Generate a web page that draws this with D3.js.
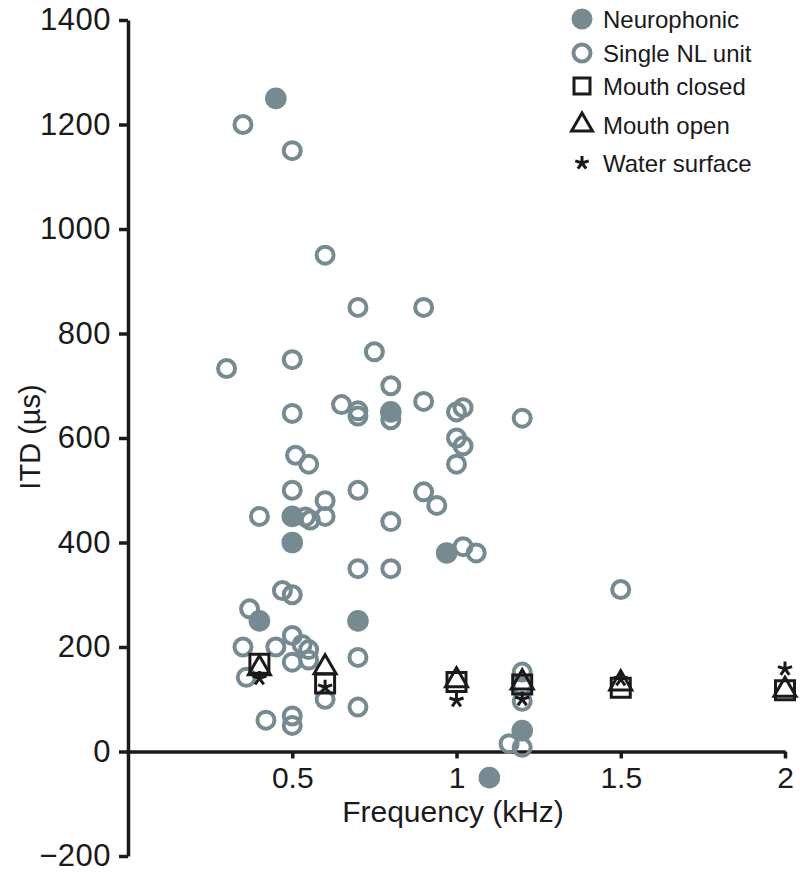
<!DOCTYPE html>
<html>
<head>
<meta charset="utf-8">
<script src="https://cdn.jsdelivr.net/npm/d3@7"></script>
<style>
  html, body { margin: 0; padding: 0; background: #fff; }
  svg { display: block; }
  text { font-family: "Liberation Sans", Arial, Helvetica, sans-serif; fill: #1a1a1a; }
</style>
</head>
<body>
<svg id="chart" width="800" height="876"></svg>
<script>
// ---------- data ----------
const neurophonic = [
  [0.45, 1250], [0.8, 650], [0.5, 450], [0.5, 400], [0.97, 380],
  [0.4, 250], [0.7, 250], [1.2, 40], [1.1, -50]
];
const singleNL = [
  [0.35, 1200], [0.5, 1150], [0.6, 950], [0.7, 850], [0.9, 850],
  [0.75, 765], [0.5, 750], [0.3, 733], [0.8, 700], [0.9, 670],
  [0.65, 664], [0.7, 652], [0.7, 642], [0.5, 647], [0.8, 635],
  [1.0, 650], [1.02, 658], [1.2, 638], [1.0, 600], [1.02, 585],
  [1.0, 550], [0.51, 567], [0.55, 550], [0.5, 500], [0.7, 500],
  [0.9, 497], [0.94, 471], [0.6, 480], [0.4, 450], [0.54, 449],
  [0.555, 443], [0.6, 450], [0.8, 440], [1.02, 392], [1.06, 380],
  [0.7, 350], [0.8, 350], [0.47, 308], [0.5, 300], [0.37, 273],
  [0.35, 200], [0.45, 200], [0.5, 222], [0.53, 205], [0.55, 195],
  [0.5, 171], [0.55, 175], [0.7, 180], [0.36, 142], [0.6, 100],
  [0.7, 85], [0.42, 60], [0.5, 68], [0.5, 50], [1.2, 152],
  [1.2, 125], [1.2, 96], [1.16, 15], [1.2, 8], [1.5, 310]
];
const mouthClosed = [[0.4, 168], [0.6, 130], [1.0, 133], [1.2, 128], [1.5, 122], [2.0, 117]];
const mouthOpen   = [[0.4, 159], [0.6, 161], [1.0, 136], [1.2, 132], [1.5, 130], [2.0, 118]];
const waterSurface = [[0.4, 140], [0.6, 123], [1.0, 98], [1.2, 100], [1.5, 138], [2.0, 158]];

const yTicks = [-200, 0, 200, 400, 600, 800, 1000, 1200, 1400];
const xTicks = [0.5, 1, 1.5, 2];
const legendLabels = ["Neurophonic", "Single NL unit", "Mouth closed", "Mouth open", "Water surface"];

// ---------- setup ----------
const grey = "#768a92";
const ink = "#1a1a1a";
const svg = d3.select("#chart");

const x = d3.scaleLinear().domain([0, 2]).range([128, 785]);
const y = d3.scaleLinear().domain([-200, 1400]).range([856, 20]);

// custom 5-armed asterisk symbol
const asterisk5 = {
  draw(ctx, size) {
    const r = Math.sqrt(size) / 2;
    for (let i = 0; i < 5; i++) {
      const a = -Math.PI / 2 + i * 2 * Math.PI / 5;
      ctx.moveTo(0, 0);
      ctx.lineTo(r * Math.cos(a), r * Math.sin(a));
    }
  }
};

// ---------- axes ----------
const yAxis = d3.axisLeft(y).tickValues(yTicks).tickSize(9).tickSizeOuter(0).tickPadding(8)
  .tickFormat(d => d < 0 ? "\u2212" + Math.abs(d) : d);
const gy = svg.append("g").attr("transform", `translate(${x(0)},0)`).call(yAxis);
gy.select(".domain").attr("stroke", ink).attr("stroke-width", 3.5);
gy.selectAll(".tick line").attr("stroke", ink).attr("stroke-width", 3.5);
gy.selectAll(".tick text").attr("font-size", 31).attr("letter-spacing", "0.5px")
  .attr("font-family", "Liberation Sans, Arial, sans-serif").attr("fill", ink);

const xAxis = d3.axisBottom(x).tickValues(xTicks).tickSize(7).tickSizeOuter(0).tickPadding(8)
  .tickFormat(d => String(d));
const gx = svg.append("g").attr("transform", `translate(0,${y(0)})`).call(xAxis);
gx.select(".domain").attr("stroke", ink).attr("stroke-width", 3.5);
gx.selectAll(".tick line").attr("stroke", ink).attr("stroke-width", 3.5);
gx.selectAll(".tick text").attr("font-size", 30)
  .attr("font-family", "Liberation Sans, Arial, sans-serif").attr("fill", ink);

svg.append("text")
  .attr("x", 453).attr("y", 822)
  .attr("text-anchor", "middle")
  .attr("font-size", 30)
  .text("Frequency (kHz)");

svg.append("text")
  .attr("transform", `translate(40,437) rotate(-90)`)
  .attr("text-anchor", "middle")
  .attr("font-size", 29)
  .text("ITD (\u00b5s)");

// ---------- marks ----------
const plot = svg.append("g");

plot.selectAll("circle.neuro").data(neurophonic).enter().append("circle")
  .attr("class", "neuro")
  .attr("cx", d => x(d[0])).attr("cy", d => y(d[1])).attr("r", 10.8)
  .attr("fill", grey);

plot.selectAll("circle.single").data(singleNL).enter().append("circle")
  .attr("class", "single")
  .attr("cx", d => x(d[0])).attr("cy", d => y(d[1])).attr("r", 8.5)
  .attr("fill", "none").attr("stroke", grey).attr("stroke-width", 4);

const sq = d3.symbol().type(d3.symbolSquare).size(361);
plot.selectAll("path.closed").data(mouthClosed).enter().append("path")
  .attr("class", "closed")
  .attr("transform", d => `translate(${x(d[0])},${y(d[1])})`)
  .attr("d", sq).attr("fill", "none").attr("stroke", ink).attr("stroke-width", 3);

const tri = d3.symbol().type(d3.symbolTriangle).size(210);
plot.selectAll("path.open").data(mouthOpen).enter().append("path")
  .attr("class", "open")
  .attr("transform", d => `translate(${x(d[0])},${y(d[1])})`)
  .attr("d", tri).attr("fill", "none").attr("stroke", ink).attr("stroke-width", 3);

const ast = d3.symbol().type(asterisk5).size(220);
plot.selectAll("path.water").data(waterSurface).enter().append("path")
  .attr("class", "water")
  .attr("transform", d => `translate(${x(d[0])},${y(d[1])})`)
  .attr("d", ast).attr("fill", "none").attr("stroke", ink).attr("stroke-width", 3).attr("stroke-linecap", "butt");

// ---------- legend ----------
const legendY = [19, 53, 86, 125, 163];
const lg = svg.append("g");
const lx = 582;
lg.append("circle").attr("cx", lx).attr("cy", legendY[0]).attr("r", 10.5).attr("fill", grey);
lg.append("circle").attr("cx", lx).attr("cy", legendY[1]).attr("r", 8.5).attr("fill", "none").attr("stroke", grey).attr("stroke-width", 4);
lg.append("path").attr("transform", `translate(${lx},${legendY[2]})`).attr("d", d3.symbol().type(d3.symbolSquare).size(256)).attr("fill", "none").attr("stroke", ink).attr("stroke-width", 3);
lg.append("path").attr("transform", `translate(${lx},${legendY[3]})`).attr("d", d3.symbol().type(d3.symbolTriangle).size(190)).attr("fill", "none").attr("stroke", ink).attr("stroke-width", 3);
lg.append("path").attr("transform", `translate(${lx},${legendY[4]})`).attr("d", d3.symbol().type(asterisk5).size(200)).attr("fill", "none").attr("stroke", ink).attr("stroke-width", 3);
lg.selectAll("text.leg").data(legendLabels).enter().append("text")
  .attr("class", "leg")
  .attr("x", 603).attr("y", (d, i) => legendY[i])
  .attr("dy", "0.36em")
  .attr("font-size", 24)
  .text(d => d);
</script>
</body>
</html>
